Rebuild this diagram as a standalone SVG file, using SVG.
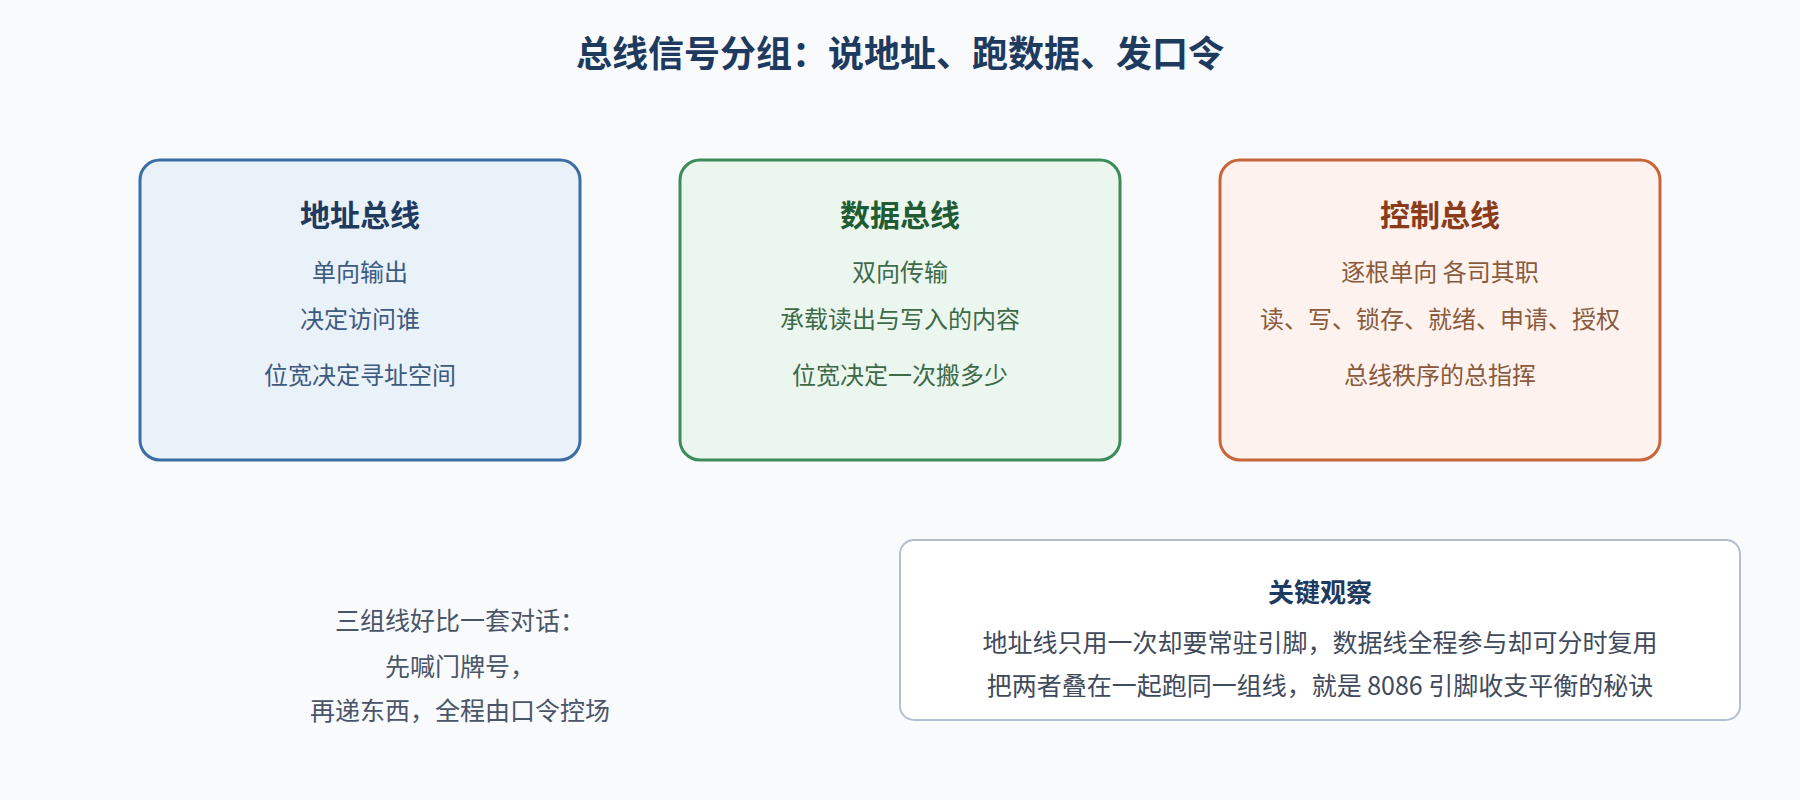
<svg xmlns="http://www.w3.org/2000/svg" width="1800" height="800" viewBox="0 0 1800 800">
<style>
text { font-family: "Noto Sans CJK SC", "Noto Sans", sans-serif; text-anchor: middle; }
.title { font-size: 36px; font-weight: 700; fill: #1e3a5f; }
.h { font-size: 30px; font-weight: 700; }
.b { font-size: 24px; }
.b2 { font-size: 25px; }
.card { stroke-width: 3; }
</style>
<rect width="1800" height="800" fill="#f8fafc"/>
<text class="title" x="900" y="67">总线信号分组：说地址、跑数据、发口令</text>

<g id="address-bus">
<rect class="card" x="140" y="160" width="440" height="300" rx="20" fill="#e9f1f9" stroke="#3b6ea5"/>
<text class="h" x="360" y="226" fill="#1e3a5f">地址总线</text>
<text class="b" x="360" y="281" fill="#3d5a80">单向输出</text>
<text class="b" x="360" y="328" fill="#3d5a80">决定访问谁</text>
<text class="b" x="360" y="384" fill="#3d5a80">位宽决定寻址空间</text>
</g>

<g id="data-bus">
<rect class="card" x="680" y="160" width="440" height="300" rx="20" fill="#ebf6ee" stroke="#3e8b5a"/>
<text class="h" x="900" y="226" fill="#1f5b33">数据总线</text>
<text class="b" x="900" y="281" fill="#3e6a4a">双向传输</text>
<text class="b" x="900" y="328" fill="#3e6a4a">承载读出与写入的内容</text>
<text class="b" x="900" y="384" fill="#3e6a4a">位宽决定一次搬多少</text>
</g>

<g id="control-bus">
<rect class="card" x="1220" y="160" width="440" height="300" rx="20" fill="#fdf2ed" stroke="#c8653b"/>
<text class="h" x="1440" y="226" fill="#8a3b1a">控制总线</text>
<text class="b" x="1440" y="281" fill="#8a5a3c">逐根单向 各司其职</text>
<text class="b" x="1440" y="328" fill="#8a5a3c">读、写、锁存、就绪、申请、授权</text>
<text class="b" x="1440" y="384" fill="#8a5a3c">总线秩序的总指挥</text>
</g>

<g id="analogy">
<text class="b2" x="460" y="630" fill="#4a5568">三组线好比一套对话：</text>
<text class="b2" x="460" y="676" fill="#4a5568">先喊门牌号，</text>
<text class="b2" x="460" y="720" fill="#4a5568">再递东西，全程由口令控场</text>
</g>

<g id="insight">
<rect x="900" y="540" width="840" height="180" rx="14" fill="#ffffff" stroke="#b3bfd1" stroke-width="2"/>
<text x="1320" y="602" font-size="26" font-weight="700" fill="#1e3a5f">关键观察</text>
<text class="b2" x="1320" y="652" fill="#3f4a5c">地址线只用一次却要常驻引脚，数据线全程参与却可分时复用</text>
<text class="b2" x="1320" y="695" fill="#3f4a5c">把两者叠在一起跑同一组线，就是 8086 引脚收支平衡的秘诀</text>
</g>

<g id="connectors"></g>
</svg>
